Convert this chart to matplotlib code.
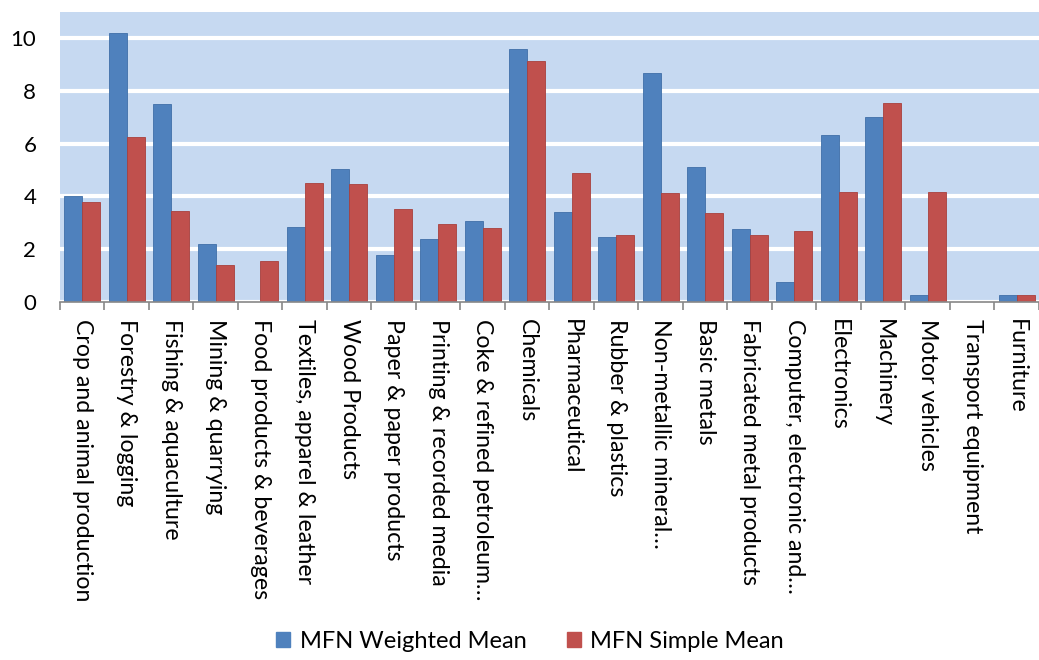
import numpy as np
import matplotlib
matplotlib.use("Agg")
import matplotlib.pyplot as plt
from matplotlib.patches import Patch

plt.rcParams['font.family'] = ['Lato', 'DejaVu Sans']

sectors = ["Crop and animal production", "Forestry & logging", "Fishing & aquaculture",
           "Mining & quarrying", "Food products & beverages", "Textiles, apparel & leather",
           "Wood Products", "Paper & paper products", "Printing & recorded media",
           "Coke & refined petroleum\u2026", "Chemicals", "Pharmaceutical",
           "Rubber & plastics", "Non-metallic mineral\u2026", "Basic metals",
           "Fabricated metal products", "Computer, electronic and\u2026", "Electronics",
           "Machinery", "Motor vehicles", "Transport equipment", "Furniture"]

weighted_mean = [4.0, 10.2, 7.5, 2.18, 0.0, 2.83, 5.05, 1.78, 2.4, 3.06, 9.58,
                 3.41, 2.47, 8.66, 5.13, 2.78, 0.77, 6.34, 7.02, 0.25, 0.0, 0.25]
simple_mean = [3.78, 6.26, 3.46, 1.39, 1.56, 4.5, 4.46, 3.53, 2.95, 2.81, 9.13,
               4.9, 2.55, 4.12, 3.36, 2.53, 2.68, 4.18, 7.54, 4.18, 0.0, 0.25]

blue = '#4f81bd'
red = '#c0504d'

fig = plt.figure(figsize=(10.39, 6.6), dpi=100)
ax = fig.add_axes([0.0577, 0.5424, 0.9423, 0.44])
ax.set_facecolor('#c6d9f1')

x = np.arange(len(sectors))
w = 0.4
ax.bar(x - w/2, weighted_mean, w, color=blue, edgecolor='#3f6fa8', linewidth=0.6, zorder=3)
ax.bar(x + w/2, simple_mean, w, color=red, edgecolor='#a8403d', linewidth=0.6, zorder=3)

ax.set_xlim(-0.5, len(sectors) - 0.5)
ax.set_ylim(0, 11)
ax.set_yticks([0, 2, 4, 6, 8, 10])
ax.yaxis.grid(True, color='white', linewidth=3, zorder=1)
ax.set_axisbelow(True)

for s in ['top', 'right', 'left']:
    ax.spines[s].set_visible(False)
ax.spines['bottom'].set_color('#888888')
ax.spines['bottom'].set_linewidth(1.2)
ax.spines['bottom'].set_zorder(4)

# category labels between the boundary ticks
ax.set_xticks(x)
ax.set_xticklabels(sectors, rotation=270, fontsize=16.7, va='top', ha='center')
ax.tick_params(axis='x', length=0, pad=12)
ax.set_xticks(np.arange(len(sectors) + 1) - 0.5, minor=True)
ax.tick_params(axis='x', which='minor', length=6, width=1.2, color='#888888')
ax.tick_params(axis='y', length=0, labelsize=16, pad=17)

handles = [Patch(color=blue, label='MFN Weighted Mean'),
           Patch(color=red, label='MFN Simple Mean')]
fig.legend(handles=handles, loc='lower center', bbox_to_anchor=(0.51, -0.02), ncol=2,
           frameon=False, fontsize=17, handlelength=0.6, handleheight=0.6,
           columnspacing=1.7, handletextpad=0.4)

fig.savefig('out.png', dpi=100)
